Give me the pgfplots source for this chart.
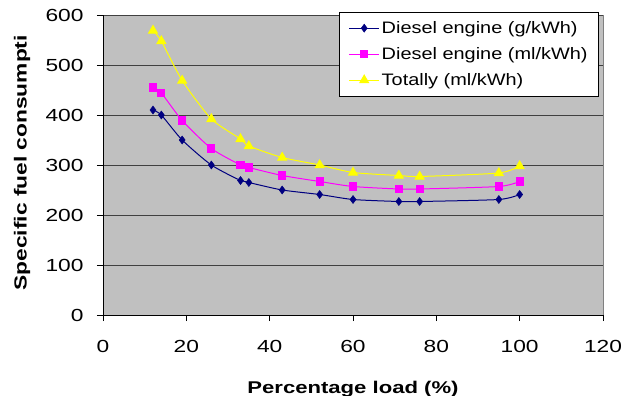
\documentclass[border=0pt]{standalone}
\usepackage{pgfplots}
\pgfplotsset{compat=1.18}
\usepackage{fontspec}
\setmainfont{Liberation Sans}
\newfontfamily\tickfont{Liberation Sans}[FakeStretch=1.3]
\newfontfamily\legfont{Liberation Sans}[FakeStretch=1.2]
\newfontfamily\labfont{Liberation Sans}[FakeStretch=1.3]
\definecolor{plotbg}{HTML}{C0C0C0}
\definecolor{gridc}{HTML}{404040}
\definecolor{borderc}{HTML}{808080}
\definecolor{dblue}{HTML}{000080}
\definecolor{mag}{HTML}{FF00FF}
\definecolor{yel}{HTML}{FFFF00}
\begin{document}
\begin{tikzpicture}
\useasboundingbox (0bp,0bp) rectangle (624bp,396bp);
\begin{axis}[
  at={(103bp,81bp)}, anchor=south west,
  scale only axis, width=500bp, height=300bp,
  xmin=0, xmax=120, ymin=0, ymax=600,
  xtick={0,20,...,120}, ytick={0,100,...,600},
  axis lines=left, axis line style={-, black, line width=0.8bp},
  axis background/.style={fill=plotbg, draw=borderc, line width=1bp},
  ymajorgrids, major grid style={gridc, line width=1bp},
  tick align=outside, major tick length=6bp, tick style={black, line width=0.8bp},
  /pgf/number format/assume math mode=true,
  ticklabel style={font=\tickfont\fontsize{17.5bp}{20bp}\selectfont},
  xticklabel style={yshift=-16bp},
  yticklabel style={xshift=-10bp},
  xlabel={Percentage load (\%)},
  ylabel={Specific fuel consumpti},
  xlabel style={font=\labfont\bfseries\fontsize{17bp}{20bp}\selectfont, at={(axis description cs:0.5,-0.208)}, anchor=north},
  ylabel style={font=\labfont\bfseries\fontsize{17.5bp}{20bp}\selectfont, at={(axis description cs:-0.185,0.07)}, anchor=north west},
  legend style={at={(axis description cs:0.992,1.01)}, anchor=north east,
    draw=black, fill=white, line width=0.8bp,
    font=\legfont\fontsize{16.6bp}{20bp}\selectfont,
    row sep=8.5bp, inner xsep=9bp, inner ysep=7bp,
    /tikz/every even column/.append style={column sep=3bp}},
  legend cell align=left,
  legend image code/.code={\draw[mark repeat=2,mark phase=2,line width=1bp] plot coordinates {(0bp,0bp) (15bp,0bp) (30bp,0bp)};},
]
\addplot[dblue, line width=1bp, smooth, tension=0.4, mark=diamond*, mark size=4bp, mark options={fill=dblue, draw=dblue, line width=0.5bp}]
coordinates {(12,410) (14,400) (19,350) (26,300) (33,269) (35,265) (43,250) (52,241) (60,231) (71,227) (76,227) (95,231) (100,241)};
\addlegendentry{Diesel engine (g/kWh)}
\addplot[mag, line width=1bp, smooth, tension=0.4, mark=square*, mark size=3.6bp, mark options={fill=mag, draw=mag}]
coordinates {(12,455) (14,444) (19,389) (26,333) (33,300) (35,295) (43,279) (52,267) (60,257) (71,252) (76,252) (95,257) (100,267)};
\addlegendentry{Diesel engine (ml/kWh)}
\addplot[yel, line width=1bp, smooth, tension=0.4, mark=triangle*, mark size=5bp, mark options={fill=yel, draw=yel}]
coordinates {(12,569) (14,548) (19,469) (26,392) (33,352) (35,338) (43,315) (52,300) (60,285) (71,279) (76,277) (95,284) (100,298)};
\addlegendentry{Totally (ml/kWh)}
\end{axis}
\end{tikzpicture}
\end{document}
